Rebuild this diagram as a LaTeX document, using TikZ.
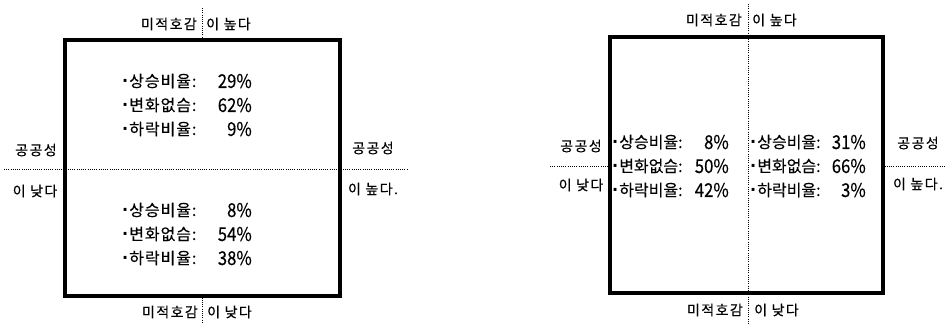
\documentclass[tikz,border=0pt]{standalone}
\usepackage{fontspec}
\setmainfont{Noto Sans CJK KR}
\newfontfamily\widefont[LetterSpace=6,FakeBold=0.4]{Noto Sans CJK KR}
\newfontfamily\narrowfont[FakeBold=0.4]{Noto Sans CJK KR}
\newfontfamily\labfont[LetterSpace=10,FakeBold=0.3]{Noto Sans CJK KR}
\newfontfamily\numfont[FakeStretch=0.88,FakeBold=0.4]{Noto Sans CJK KR}
\newfontfamily\dotfont{DejaVu Sans}
\newcommand{\bul}{{\dotfont\bfseries ·}\kern1pt}
\begin{document}
\begin{tikzpicture}[x=1pt,y=-1pt,
  boxframe/.style={draw,line width=3.2pt,inner sep=0pt},
  dotline/.style={line width=0.8pt,dash pattern=on 1pt off 1.2pt},
  lab/.style={inner sep=0pt,font=\labfont\fontsize{14}{14}\selectfont},
  cellw/.style={inner sep=0pt,anchor=west,font=\widefont\fontsize{16}{16}\selectfont},
  celln/.style={inner sep=0pt,anchor=west,font=\narrowfont\fontsize{16}{16}\selectfont},
  numw/.style={inner sep=0pt,anchor=east,font=\numfont\fontsize{19}{19}\selectfont},
]
\useasboundingbox (0,0) rectangle (946,325);
% ---------- left diagram ----------
\node[boxframe,minimum width=275pt,minimum height=256pt] (boxA) at (202.5,168) {};
\coordinate (aTopEnd) at (202,8);
\coordinate (aBotEnd) at (202,323);
\coordinate (aLeftEnd) at (4,169);
\coordinate (aRightEnd) at (408,169);
\draw[dotline] (aTopEnd) -- (boxA.north-|aTopEnd);
\draw[dotline] (boxA.south-|aBotEnd) -- (aBotEnd);
\draw[dotline] (aLeftEnd) -- (aRightEnd);
\node[lab,anchor=east] (aT1) at (197,24) {미적호감};
\node[lab,anchor=west] (aT2) at (206,24) {이 높다};
\node[lab,anchor=east] (aB1) at (198,312) {미적호감};
\node[lab,anchor=west] (aB2) at (207,312) {이 낮다};
\node[lab] (aL1) at (36,150) {공공성};
\node[lab] (aL2) at (35,191) {이 낮다};
\node[lab] (aR1) at (373,148) {공공성};
\node[lab] (aR2) at (373,189) {이 높다.};
\node[cellw] (a1) at (122,81) {\bul 상승비율:};
\node[numw] (a1n) at (252,81) {29\%};
\node[cellw] (a2) at (122,105) {\bul 변화없슴:};
\node[numw] (a2n) at (252,105) {62\%};
\node[cellw] (a3) at (122,129) {\bul 하락비율:};
\node[numw] (a3n) at (252,129) {9\%};
\node[cellw] (a4) at (122,210) {\bul 상승비율:};
\node[numw] (a4n) at (252,210) {8\%};
\node[cellw] (a5) at (122,234) {\bul 변화없슴:};
\node[numw] (a5n) at (252,234) {54\%};
\node[cellw] (a6) at (122,258) {\bul 하락비율:};
\node[numw] (a6n) at (252,258) {38\%};
% ---------- right diagram ----------
\node[boxframe,minimum width=273pt,minimum height=256pt] (boxB) at (746.5,165) {};
\coordinate (bTopEnd) at (748,4);
\coordinate (bBotEnd) at (748,325);
\coordinate (bLeftEnd) at (550,166);
\coordinate (bRightEnd) at (946,166);
\draw[dotline] (bTopEnd) -- (bBotEnd);
\draw[dotline] (bLeftEnd) -- (bLeftEnd-|boxB.west);
\draw[dotline] (bRightEnd-|boxB.east) -- (bRightEnd);
\node[lab,anchor=east] (bT1) at (742,20) {미적호감};
\node[lab,anchor=west] (bT2) at (752,20) {이 높다};
\node[lab,anchor=east] (bB1) at (743,310) {미적호감};
\node[lab,anchor=west] (bB2) at (754,310) {이 낮다};
\node[lab] (bL1) at (581,146) {공공성};
\node[lab] (bL2) at (581,185) {이 낮다};
\node[lab] (bR1) at (918,143) {공공성};
\node[lab] (bR2) at (918,184) {이 높다.};
\node[celln] (b1) at (612,142) {\bul 상승비율:};
\node[numw] (b1n) at (729,142) {8\%};
\node[celln] (b2) at (612,166) {\bul 변화없슴:};
\node[numw] (b2n) at (729,166) {50\%};
\node[celln] (b3) at (612,190) {\bul 하락비율:};
\node[numw] (b3n) at (729,190) {42\%};
\node[celln] (b4) at (750,142) {\bul 상승비율:};
\node[numw] (b4n) at (866,142) {31\%};
\node[celln] (b5) at (750,166) {\bul 변화없슴:};
\node[numw] (b5n) at (866,166) {66\%};
\node[celln] (b6) at (750,190) {\bul 하락비율:};
\node[numw] (b6n) at (866,190) {3\%};
\end{tikzpicture}
\end{document}
